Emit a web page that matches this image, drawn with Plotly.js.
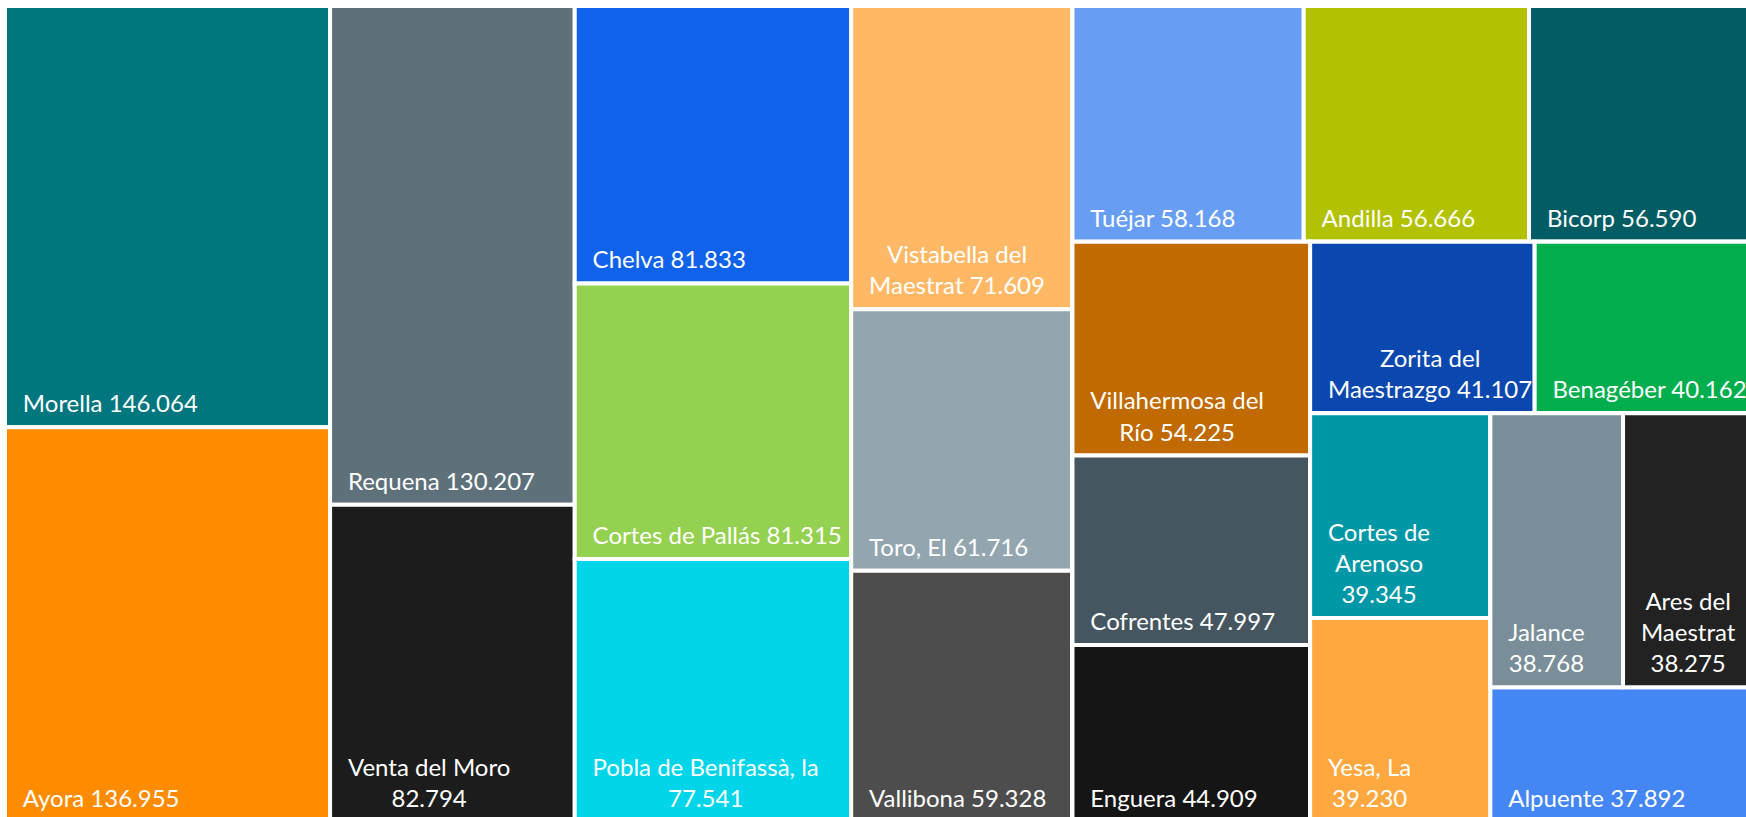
<!DOCTYPE html>
<html>
<head>
<meta charset="utf-8">
<script src="https://cdn.plot.ly/plotly-3.0.1.min.js"></script>
<style>
  html, body { margin: 0; padding: 0; overflow: hidden; background: #ffffff; }
  #chart { width: 1760px; height: 832px; }
</style>
</head>
<body>
<div id="chart"></div>
<script>
// ---- data ----
const names = [
  "Morella", "Ayora", "Requena", "Venta del Moro", "Chelva", "Cortes de Pallás",
  "Pobla de Benifassà, la", "Vistabella del Maestrat", "Toro, El", "Vallibona",
  "Tuéjar", "Andilla", "Bicorp", "Villahermosa del Río", "Cofrentes", "Enguera",
  "Zorita del Maestrazgo", "Benagéber", "Cortes de Arenoso", "Yesa, La",
  "Jalance", "Ares del Maestrat", "Alpuente"
];
const values = [
  146064, 136955, 130207, 82794, 81833, 81315,
  77541, 71609, 61716, 59328,
  58168, 56666, 56590, 54225, 47997, 44909,
  41107, 40162, 39345, 39230,
  38768, 38275, 37892
];
// label as wrapped in the tiles
const wrappedNames = [
  "Morella", "Ayora", "Requena", "Venta del Moro", "Chelva", "Cortes de Pallás",
  "Pobla de Benifassà, la", "Vistabella del<br>Maestrat", "Toro, El", "Vallibona",
  "Tuéjar", "Andilla", "Bicorp", "Villahermosa del<br>Río", "Cofrentes", "Enguera",
  "Zorita del<br>Maestrazgo", "Benagéber", "Cortes de<br>Arenoso", "Yesa, La",
  "Jalance", "Ares del<br>Maestrat", "Alpuente"
];
// whether the value goes on its own line
const valueOnNewLine = [
  false, false, false, true, false, false,
  true, false, false, false,
  false, false, false, false, false, false,
  false, false, true, true,
  true, true, false
];
const colors = [
  "#00767F", "#FF8C00", "#5E717B", "#1C1C1C", "#1062EA", "#95D150",
  "#00D5EA", "#FFB966", "#93A5AF", "#4D4D4D",
  "#679DF3", "#B2C100", "#015C63", "#C06A00", "#465660", "#151515",
  "#0A48B0", "#00AE4E", "#0098A6", "#FFA840",
  "#798E99", "#222222", "#4486F4"
];
// tile grouping (columns / rows of the layout)
const leafGroup = [
  "C1", "C1", "C2", "C2", "C3", "C3",
  "C3", "C4", "C4", "C4",
  "T1", "T1", "T1", "C5", "C5", "C5",
  "T2", "T2", "C6", "C6",
  "T3", "T3", "R5"
];
const groupIds     = ["C1", "C2", "C3", "C4", "R1", "T1", "R2", "C5", "R3", "T2", "R4", "C6", "R5", "T3"];
const groupParents = ["",   "",   "",   "",   "",   "R1", "R1", "R2", "R2", "R3", "R3", "R4", "R4", "R5"];

// ---- text helpers (padding + centred lines) ----
const FONT_SIZE = 24;
const ctx = document.createElement("canvas").getContext("2d");
ctx.font = FONT_SIZE + "px Lato";
const spaceW = ctx.measureText("\u00A0").width || FONT_SIZE * 0.193;
const LEAD = '<span style="font-size:58px">\u00A0</span>';
function fmt(v) { return String(v).replace(/\B(?=(\d{3})+(?!\d))/g, "."); }
function spacer(extra) {
  let s = "";
  const n = Math.floor(extra / spaceW);
  for (let k = 0; k < n; k++) s += "\u00A0";
  const r = extra - n * spaceW;
  if (r > 0.5) s += '<span style="font-size:' + (FONT_SIZE * r / spaceW).toFixed(1) + 'px">\u00A0</span>';
  return s;
}

const leafTexts = wrappedNames.map(function (w, i) {
  const lines = w.split("<br>");
  const shown = lines.slice();
  if (valueOnNewLine[i]) shown.push(fmt(values[i]));
  else shown[shown.length - 1] += " " + fmt(values[i]);
  const widths = shown.map(function (l) { return ctx.measureText(l).width; });
  const maxW = Math.max.apply(null, widths);
  const padded = lines.map(function (l, k) { return LEAD + spacer((maxW - widths[k]) / 2) + l; });
  const lastPad = LEAD + spacer((maxW - widths[widths.length - 1]) / 2);
  return padded.join("<br>") + (valueOnNewLine[i] ? "<br>" + lastPad : " ");
});

// groups first, so that sibling order is kept
const ids = groupIds.concat(names);
const parents = groupParents.concat(leafGroup);
const allValues = groupIds.map(function () { return 0; }).concat(values);
const allText = groupIds.map(function () { return ""; }).concat(leafTexts);
const allColors = groupIds.map(function () { return "#ffffff"; }).concat(colors);
const templates = groupIds.map(function () { return " "; })
  .concat(names.map(function () { return "%{text}%{value:,}"; }));

const trace = {
  type: "treemap",
  ids: ids,
  labels: ids,
  parents: parents,
  values: allValues,
  branchvalues: "remainder",
  text: allText,
  texttemplate: templates,
  textposition: "bottom left",
  textfont: { family: "Lato, 'Open Sans', sans-serif", size: FONT_SIZE, color: "#ffffff" },
  marker: {
    colors: allColors,
    line: { color: "#ffffff", width: 4 },
    pad: { t: 0, l: 0, r: 0, b: 0 }
  },
  tiling: { packing: "slice-dice", pad: 0 },
  pathbar: { visible: false },
  sort: false,
  hoverinfo: "label+value"
};

const layout = {
  width: 1760,
  height: 832,
  margin: { l: 5.3, r: 6.2, t: 6.3, b: 10.2, pad: 0 },
  paper_bgcolor: "#ffffff",
  separators: ",.",
  uniformtext: { mode: "show", minsize: FONT_SIZE },
  showlegend: false
};

Plotly.newPlot("chart", [trace], layout, { displayModeBar: false, staticPlot: true });
</script>
</body>
</html>
